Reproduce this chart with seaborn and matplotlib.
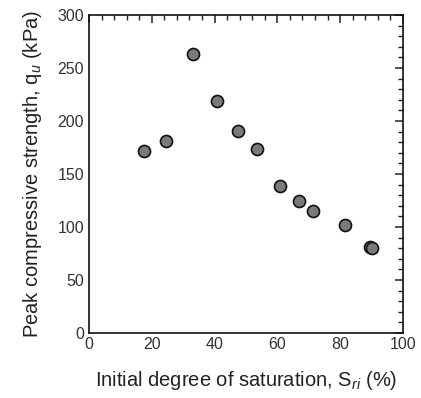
import matplotlib
matplotlib.use("Agg")
import matplotlib.pyplot as plt
import seaborn as sns
import pandas as pd
from matplotlib.ticker import MultipleLocator

saturation = [17.6, 24.5, 33.2, 40.7, 47.5, 53.4, 60.8, 66.8, 71.3, 81.6, 89.5, 90.3]
strength = [171.5, 181, 263, 219, 190.5, 174, 139, 124.5, 115, 102, 81.5, 80.5]

df = pd.DataFrame({"Sri": saturation, "qu": strength})

sns.set_style("white")
plt.rcParams['font.family'] = ['Liberation Sans', 'DejaVu Sans']
plt.rcParams['mathtext.fontset'] = 'custom'
plt.rcParams['mathtext.rm'] = 'Liberation Sans'
plt.rcParams['mathtext.it'] = 'Liberation Sans:italic'

fig = plt.figure(figsize=(4.21, 3.98), dpi=100)
ax = fig.add_axes([0.2114, 0.1633, 0.957 - 0.2114, 0.9623 - 0.1633])

sns.scatterplot(data=df, x="Sri", y="qu", ax=ax, s=75, color="#7a7a7a",
                edgecolor="#111111", linewidth=1.2, zorder=3)

ax.set_xlim(0, 100)
ax.set_ylim(0, 300)
ax.xaxis.set_major_locator(MultipleLocator(20))
ax.xaxis.set_minor_locator(MultipleLocator(4))
ax.yaxis.set_major_locator(MultipleLocator(50))
ax.yaxis.set_minor_locator(MultipleLocator(10))
ax.tick_params(which="both", direction="in", top=True, right=True, labelsize=11.5,
               colors="#222222", labelcolor="#333333")
ax.tick_params(axis="x", which="major", pad=3)
ax.tick_params(which="major", length=6, width=1.1)
ax.tick_params(which="minor", length=3.5, width=1.0)
for sp in ax.spines.values():
    sp.set_color("#111111")
    sp.set_linewidth(1.2)

ax.set_xlabel("Initial degree of saturation, S$_{\\mathit{ri}}$ (%)", fontsize=14.5, labelpad=12, color="#222222")
ax.set_ylabel("Peak compressive strength, q$_{u}$ (kPa)", fontsize=14.5, labelpad=10, color="#222222")

fig.savefig("out.png", dpi=100)
